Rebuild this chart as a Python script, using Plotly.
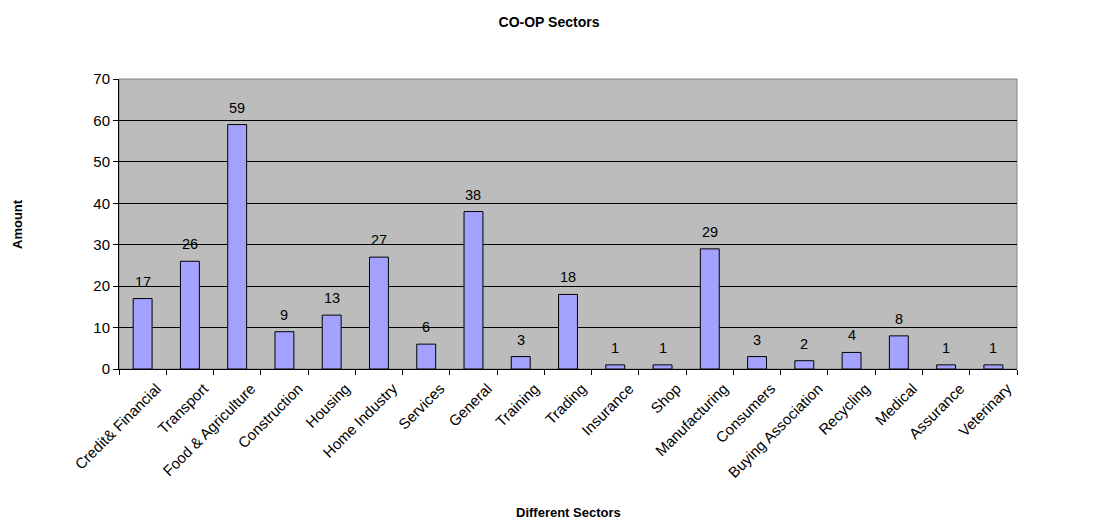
import plotly.graph_objects as go

sectors = [
    "Credit& Financial", "Transport", "Food & Agriculture", "Construction",
    "Housing", "Home Industry", "Services", "General", "Training", "Trading",
    "Insurance", "Shop", "Manufacturing", "Consumers", "Buying Association",
    "Recycling", "Medical", "Assurance", "Veterinary",
]
amounts = [17, 26, 59, 9, 13, 27, 6, 38, 3, 18, 1, 1, 29, 3, 2, 4, 8, 1, 1]
y_ticks = [0, 10, 20, 30, 40, 50, 60, 70]

FONT = "Liberation Sans, Arial, sans-serif"

fig = go.Figure()
fig.add_trace(go.Bar(
    x=sectors,
    y=amounts,
    marker=dict(color="#a3a3ff", line=dict(color="#000000", width=1)),
    hoverinfo="x+y",
))

# value labels above each bar
for s, v in zip(sectors, amounts):
    fig.add_annotation(
        x=s, y=v, text=str(v), showarrow=False,
        yanchor="bottom", yshift=7,
        font=dict(family=FONT, size=14.5, color="#000000"),
    )

fig.update_layout(
    width=1098, height=523,
    margin=dict(l=119, r=81, t=79, b=154, autoexpand=False),
    paper_bgcolor="#ffffff",
    plot_bgcolor="#bcbcbc",
    bargap=0.6,
    showlegend=False,
    font=dict(family=FONT, size=14, color="#000000"),
    title=dict(
        text="<b>CO-OP Sectors</b>", x=0.5, xanchor="center",
        y=1 - 22 / 523, yanchor="middle",
        font=dict(family=FONT, size=14, color="#000000"),
    ),
)

fig.update_xaxes(
    type="category",
    tickson="boundaries",
    ticks="outside", ticklen=5, tickcolor="#000000",
    tickangle=-45,
    ticklabelshift=14,
    ticklabelstandoff=4,
    tickfont=dict(family=FONT, size=15, color="#000000"),
    showgrid=False,
    showline=True, linecolor="#000000", linewidth=1,
    mirror=False,
    automargin=False,
)

fig.update_yaxes(
    range=[0, 70],
    tickvals=y_ticks,
    ticks="outside", ticklen=5, tickcolor="#000000",
    tickfont=dict(family=FONT, size=15, color="#000000"),
    showgrid=True, gridcolor="#000000", gridwidth=1,
    zeroline=False,
    showline=True, linecolor="#000000", linewidth=1,
    automargin=False,
)

# axis titles placed in paper coordinates
fig.add_annotation(
    text="<b>Different Sectors</b>", xref="paper", yref="paper",
    x=0.5, y=-(512 - 369) / 290, xanchor="center", yanchor="middle",
    showarrow=False, font=dict(family=FONT, size=13, color="#000000"),
)
fig.add_annotation(
    text="<b>Amount</b>", xref="paper", yref="paper",
    x=-(119 - 17) / 898, y=(369 - 224) / 290, xanchor="center", yanchor="middle",
    textangle=-90, showarrow=False,
    font=dict(family=FONT, size=13, color="#000000"),
)

# grey frame around the plot area (top and right sides)
fig.add_shape(
    type="rect", xref="paper", yref="paper", x0=0, y0=0, x1=1, y1=1,
    line=dict(color="#808080", width=1), layer="below",
)

fig.write_html("out.html")
